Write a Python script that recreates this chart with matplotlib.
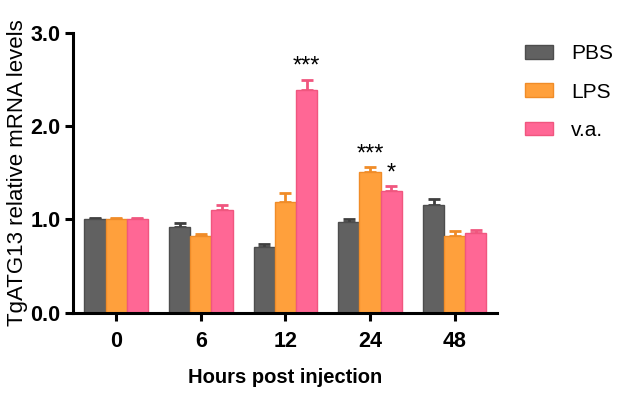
import matplotlib
matplotlib.use("Agg")
import matplotlib.pyplot as plt
import numpy as np

plt.rcParams['font.family'] = ['Liberation Sans', 'DejaVu Sans']

timepoints = ["0", "6", "12", "24", "48"]
groups = ["PBS", "LPS", "v.a."]
pbs = [1.00, 0.92, 0.71, 0.97, 1.15]
pbs_err = [0.02, 0.04, 0.025, 0.04, 0.07]
lps = [1.00, 0.82, 1.19, 1.505, 0.82]
lps_err = [0.02, 0.025, 0.09, 0.055, 0.055]
va = [1.00, 1.10, 2.39, 1.30, 0.85]
va_err = [0.02, 0.06, 0.11, 0.06, 0.04]
stars = {(2, 2): "***", (3, 1): "***", (3, 2): "*"}

series = [pbs, lps, va]
errs = [pbs_err, lps_err, va_err]
fills = ["#616161", "#FFA03C", "#FF6795"]
edges = ["#4d4d4d", "#F08C28", "#F0567F"]
ecols = ["#3f3f3f", "#F08C28", "#F0567F"]

fig = plt.figure(figsize=(6.24, 3.96), dpi=100)
ax = fig.add_axes([73/624, 1-312.7/396, (497-73)/624, (312.7-33)/396])

x = np.arange(len(timepoints))
w = 0.25
for i, (vals, er) in enumerate(zip(series, errs)):
    pos = x + (i - 1) * w
    ax.errorbar(pos, vals, yerr=[np.zeros(len(er)), er], fmt='none',
                ecolor=ecols[i], elinewidth=2, capsize=4, capthick=2, zorder=1)
    ax.bar(pos, vals, width=w, color=fills[i], edgecolor=edges[i],
           linewidth=1, label=groups[i], zorder=2)

for (ti, gi), s in stars.items():
    top = series[gi][ti] + errs[gi][ti]
    ax.text(x[ti] + (gi - 1) * w, top + 0.02, s, ha='center', va='bottom',
            fontsize=17)

ax.set_xlim(-0.51, 4.5)
ax.set_ylim(0, 3.0)
ax.set_yticks([0, 1, 2, 3])
ax.set_yticklabels(["0.0", "1.0", "2.0", "3.0"])
ax.set_xticks(x)
ax.set_xticklabels(timepoints)
for lab in ax.get_xticklabels() + ax.get_yticklabels():
    lab.set_fontweight('bold')
    lab.set_fontsize(15.5)
ax.spines['top'].set_visible(False)
ax.spines['right'].set_visible(False)
for sp in ['left', 'bottom']:
    ax.spines[sp].set_linewidth(2.2)
ax.tick_params(axis='both', width=2.2, length=6, direction='out', pad=3)
ax.tick_params(axis='x', pad=7)

ax.set_xlabel("Hours post injection", fontsize=14.5, fontweight='bold', labelpad=12)
ax.set_ylabel("TgATG13 relative mRNA levels", fontsize=16, fontweight='normal', labelpad=2)

leg = fig.legend(loc='upper left', bbox_to_anchor=(517/624, 1-36/396), frameon=False,
                 fontsize=15, handlelength=1.35, handleheight=0.62,
                 handletextpad=0.85, labelspacing=0.92, borderaxespad=0)

fig.savefig("out.png", dpi=100)
